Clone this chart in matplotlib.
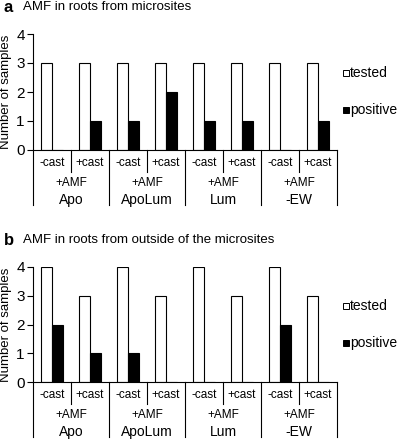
"""
AMF in roots: tested vs positive samples, two panels.
"""

import matplotlib
matplotlib.use("Agg")
import matplotlib.pyplot as plt
from matplotlib.patches import Rectangle
from matplotlib.transforms import blended_transform_factory

plt.rcParams["font.family"] = ["Liberation Sans", "DejaVu Sans"]

treatments = ["-cast", "+cast"] * 4
amf_labels = ["+AMF"] * 4
sites = ["Apo", "ApoLum", "Lum", "-EW"]

tested_a = [3, 3, 3, 3, 3, 3, 3, 3]
positive_a = [0, 1, 1, 2, 1, 1, 0, 1]
tested_b = [4, 3, 4, 3, 4, 3, 4, 3]
positive_b = [2, 1, 1, 0, 0, 0, 2, 0]

W, H = 397, 441
fig = plt.figure(figsize=(W / 100, H / 100), dpi=100)


def px_ax(left, top, right, bottom):
    return fig.add_axes([left / W, 1 - bottom / H, (right - left) / W, (bottom - top) / H])


def draw_panel(ax, tested, positive, letter, title, ax_h, top_px):
    xs = range(len(tested))
    w = 0.29
    ax.bar([x - w / 2 for x in xs], tested, w, color="white", edgecolor="black", linewidth=0.8)
    ax.bar([x + w / 2 for x in xs], positive, w, color="black", edgecolor="black", linewidth=0.8)
    ax.set_xlim(-0.5, 7.5)
    ax.set_ylim(0, 4)
    ax.set_yticks([0, 1, 2, 3, 4])
    ax.tick_params(axis="y", labelsize=11, length=4, width=0.8, pad=2)
    ax.set_xticks([])
    for s in ["top", "right"]:
        ax.spines[s].set_visible(False)
    ax.spines["left"].set_linewidth(0.8)
    ax.spines["bottom"].set_linewidth(0.8)
    ax.set_ylabel("Number of samples", fontsize=9.5, labelpad=3)

    tr = blended_transform_factory(ax.transData, ax.transAxes)
    f = lambda px: -px / ax_h
    # separators
    for x in [0.5, 2.5, 4.5, 6.5]:
        ax.plot([x, x], [0, f(22)], transform=tr, color="black", lw=0.8, clip_on=False)
    for x in [-0.5, 1.5, 3.5, 5.5, 7.5]:
        ax.plot([x, x], [0, f(55)], transform=tr, color="black", lw=0.8, clip_on=False)
    for i, t in enumerate(treatments):
        ax.text(i, f(13), t, transform=tr, ha="center", va="center", fontsize=8.5)
    for j, (a, s) in enumerate(zip(amf_labels, sites)):
        ax.text(2 * j + 0.5, f(33), a, transform=tr, ha="center", va="center", fontsize=8.5)
        ax.text(2 * j + 0.5, f(50), s, transform=tr, ha="center", va="center", fontsize=10)

    # title
    fig.text(4 / W, 1 - (top_px - 27) / H, letter, fontsize=12, fontweight="bold",
             ha="left", va="center")
    fig.text(23 / W, 1 - (top_px - 27) / H, title, fontsize=9.5, ha="left", va="center")

    # legend
    for lbl, col, dy in [("tested", "white", 39), ("positive", "black", 76)]:
        yc = top_px + dy
        fig.add_artist(Rectangle((343 / W, 1 - (yc + 3) / H), 6 / W, 6 / H,
                                 facecolor=col, edgecolor="black", lw=0.7,
                                 transform=fig.transFigure))
        fig.text(350 / W, 1 - yc / H, lbl, fontsize=10, ha="left", va="center")


ax_a = px_ax(33, 34, 337, 150)
draw_panel(ax_a, tested_a, positive_a, "a", "AMF in roots from microsites", 116, 34)

ax_b = px_ax(33, 267, 337, 382)
draw_panel(ax_b, tested_b, positive_b, "b", "AMF in roots from outside of the microsites", 115, 267)

fig.savefig("out.png", dpi=100)
